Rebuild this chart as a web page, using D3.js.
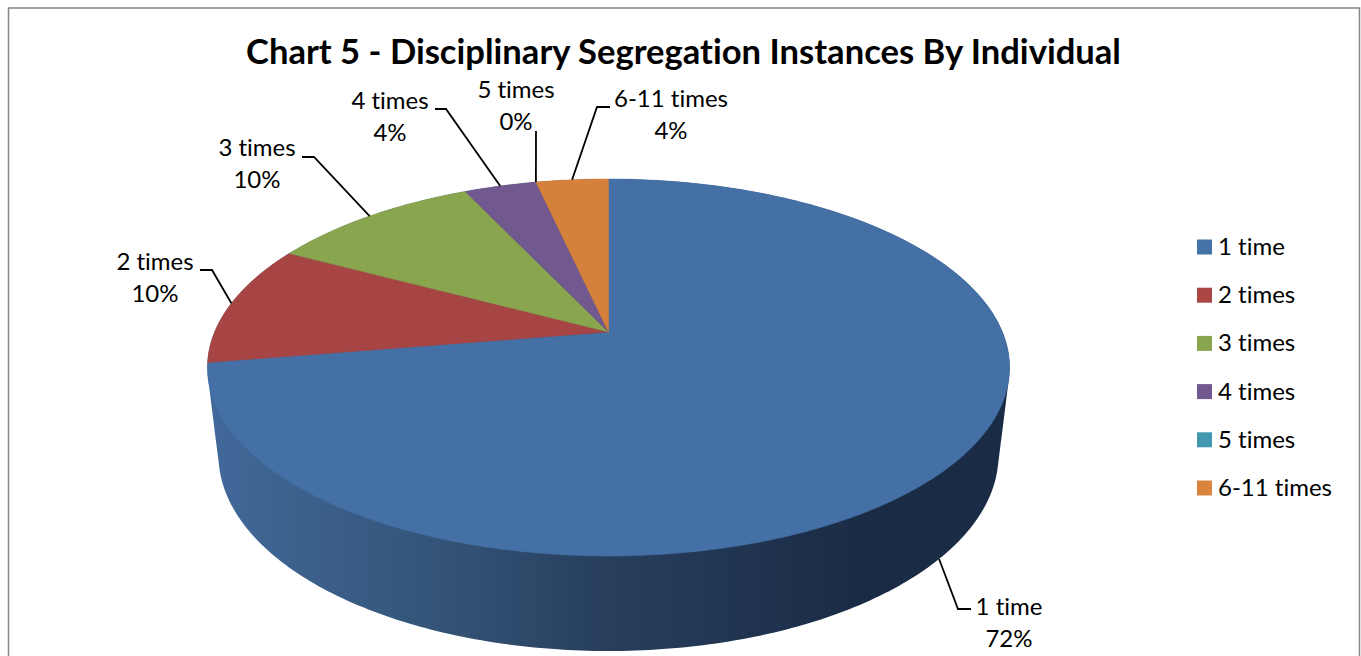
<!DOCTYPE html>
<html>
<head>
<meta charset="utf-8">
<script src="https://cdn.jsdelivr.net/npm/d3@7"></script>
<style>
  html, body { margin: 0; padding: 0; background: #fff; overflow: hidden; }
  text { font-family: Lato, "Noto Sans", sans-serif; fill: #000; font-variant-ligatures: none; }
</style>
</head>
<body>
<script>
// Chart data
var titleText = "Chart 5 - Disciplinary Segregation Instances By Individual";
var categories = ["1 time", "2 times", "3 times", "4 times", "5 times", "6-11 times"];
var shares = [72.4, 10.4, 10.2, 3.5, 0, 3.5];
var sliceColors = ["#4570a6", "#a64544", "#89a54e", "#71588f", "#4198af", "#d5813c"];
var legendColors = ["#4572a7", "#aa4643", "#89a54e", "#71588f", "#4198af", "#db843d"];

// Define SVG area dimensions
var svgWidth = 1361;
var svgHeight = 656;

// Where each data label sits: label centre and leader elbow
var labelCentres = [[1009, 607], [155, 262], [257, 148], [390, 101], [516, 90], [671, 99]];
var leaderElbows = [[[971, 609], [958, 609]], [[200, 270], [212, 270]], [[302, 157], [314, 157]],
  [[435, 109], [446, 109]], [[536, 131]], [[610, 107], [597, 107]]];

// Pie geometry: tilted disc in perspective, apex is off the ellipse centre
var apex = { x: 608.5, y: 332 };
var rimX = 393.9, rimY = 181.8, tilt = 0.1883;
var base = { x: 608.5, y: 455, rx: 390, ry: 196 };

var svg = d3.select("body")
  .append("svg")
  .attr("width", svgWidth)
  .attr("height", svgHeight)
  .style("display", "block");

// Gradient for the side wall
var gradient = svg.append("defs").append("linearGradient")
  .attr("id", "wall")
  .attr("gradientUnits", "userSpaceOnUse")
  .attr("x1", 207).attr("x2", 860).attr("y1", 0).attr("y2", 0);
[[0, "#41699a"], [0.34, "#345579"], [0.6, "#283f5e"], [1, "#1a2c45"]].forEach(function(stop) {
  gradient.append("stop").attr("offset", stop[0]).attr("stop-color", stop[1]);
});

// Chart frame, runs off the bottom of the page
svg.append("path")
  .attr("d", d3.line()([[8.5, svgHeight], [8.5, 8], [1359.5, 8], [1359.5, svgHeight]]))
  .attr("fill", "none")
  .attr("stroke", "#868686")
  .attr("stroke-width", 1.5);

// Angle on the disc -> point on the top rim
function rimPoint(angle) {
  var u = Math.sin(angle), v = Math.cos(angle), w = 1 + tilt * v;
  return [apex.x + rimX * u / w, apex.y - rimY * v / w];
}
function basePoint(angle) {
  return [base.x + base.rx * Math.sin(angle), base.y - base.ry * Math.cos(angle)];
}

var ring = d3.range(0, 2 * Math.PI, Math.PI / 180);

// Side wall is the hull of the top rim and the base ellipse
svg.append("path")
  .attr("d", d3.line().curve(d3.curveLinearClosed)(d3.polygonHull(ring.map(rimPoint).concat(ring.map(basePoint)))))
  .attr("fill", "url(#wall)");

// Slices, clockwise from 12 o'clock in category order
var pie = d3.pie().sort(null);
var arcs = pie(shares);
var color = d3.scaleOrdinal().domain(categories).range(sliceColors);
var legendColor = d3.scaleOrdinal().domain(categories).range(legendColors);

function slicePath(d) {
  var steps = Math.max(1, Math.ceil((d.endAngle - d.startAngle) / 0.01));
  var points = d3.range(steps + 1).map(function(i) {
    return rimPoint(d.startAngle + (d.endAngle - d.startAngle) * i / steps);
  });
  return d3.line().curve(d3.curveLinearClosed)([[apex.x, apex.y]].concat(points));
}

svg.append("g").selectAll("path")
  .data(arcs)
  .join("path")
  .attr("d", slicePath)
  .attr("fill", function(d, i) { return color(categories[i]); })
  .attr("stroke", function(d, i) { return d.value > 0 ? color(categories[i]) : "none"; })
  .attr("stroke-width", 0.5);

// Title
svg.append("text")
  .attr("x", 683.5)
  .attr("y", 64)
  .attr("text-anchor", "middle")
  .attr("font-size", 34.6)
  .attr("font-weight", 700)
  .text(titleText);

// Leader lines. The "1 time" one starts at the base edge, not the top rim
arcs.forEach(function(d, i) {
  var mid = (d.startAngle + d.endAngle) / 2;
  var end = i === 0 ? basePoint(2.13 ) : rimPoint(mid);
  svg.append("path")
    .attr("d", d3.line()(leaderElbows[i].concat([end])))
    .attr("fill", "none")
    .attr("stroke", "#000")
    .attr("stroke-width", 1.8);
});

// Data labels
arcs.forEach(function(d, i) {
  var label = svg.append("text")
    .attr("text-anchor", "middle")
    .attr("font-size", 24);
  label.append("tspan")
    .attr("x", labelCentres[i][0])
    .attr("y", labelCentres[i][1] + 8)
    .text(categories[i]);
  label.append("tspan")
    .attr("x", labelCentres[i][0])
    .attr("y", labelCentres[i][1] + 40)
    .text(Math.round(d.value) + "%");
});

// Legend
var legendY = d3.scalePoint().domain(categories).range([247, 488]);
var legend = svg.append("g").selectAll("g")
  .data(categories)
  .join("g")
  .attr("transform", function(d) { return "translate(1197," + legendY(d) + ")"; });
legend.append("rect")
  .attr("y", -7.5)
  .attr("width", 15)
  .attr("height", 15)
  .attr("fill", function(d) { return legendColor(d); });
legend.append("text")
  .attr("x", 21)
  .attr("y", 8)
  .attr("font-size", 24)
  .text(function(d) { return d; });
</script>
</body>
</html>
